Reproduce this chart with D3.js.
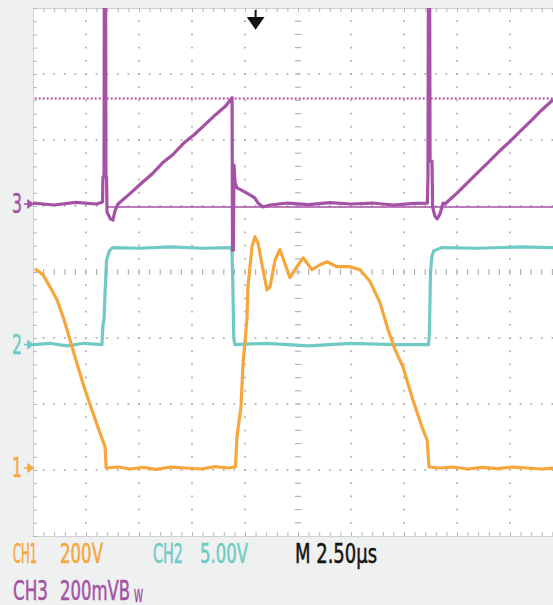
<!doctype html>
<html>
<head>
<meta charset="UTF-8">
<script src="https://d3js.org/d3.v7.min.js"></script>
<style>
  body { margin: 0; background: #eff1f0; }
  svg { display: block; }
  .lbl { font-family: "Liberation Sans Narrow", "DejaVu Sans Condensed", "Liberation Sans", sans-serif; stroke-width: 0.5; }
</style>
</head>
<body>
<svg width="553" height="605"></svg>
<script>
// scope settings
const timePerDiv = 2.5;          // µs
const ch1Scale = 200, ch1Offset = -2.97;   // V/div, div
const ch2Scale = 5,   ch2Offset = -1.1;    // V/div
const ch3Scale = 200, ch3Offset = 1.03;    // mV/div

// CH1 (V) vs time (µs)
const ch1_t = [0.09, 0.47, 0.80, 1.13, 1.42, 1.65, 1.84, 2.12, 2.45, 2.78, 3.16, 3.40, 3.45,
  4.0, 4.6, 5.2, 5.8, 6.5, 7.2, 7.9, 8.6, 9.2, 9.55, 9.62, 9.81, 9.91, 10.09, 10.14, 10.33,
  10.47, 10.61, 10.85, 11.04, 11.18, 11.42, 11.65, 12.12, 12.45, 12.74, 13.16, 13.54, 13.87,
  14.34, 14.95, 15.42, 15.90, 16.37, 16.75, 17.08, 17.45, 17.92, 18.35, 18.59, 18.68,
  19.2, 19.8, 20.5, 21.2, 21.9, 22.6, 23.3, 24.0, 24.53];
const ch1_v = [604, 586, 549, 510, 458, 410, 367, 307, 237, 176, 106, 64, 0,
  3, -3, 2, -4, 3, 0, -3, 4, 0, 3, 94, 185, 319, 449, 549, 671,
  701, 683, 601, 540, 549, 631, 662, 577, 610, 637, 601, 616, 625,
  610, 610, 601, 565, 501, 419, 358, 307, 206, 124, 85, 3,
  0, 3, -3, 2, -2, 3, 0, -3, 0];

// CH2 (V)
const ch2_t = [0.0, 0.8, 1.6, 2.4, 3.25, 3.30, 3.35, 3.40, 3.47, 3.60, 3.75, 5.0, 6.5, 8.0, 9.38,
  9.42, 9.47, 9.52, 11.0, 13.0, 15.0, 17.0, 18.66, 18.70, 18.75, 18.82, 18.90, 19.3, 21.0, 23.0, 24.53];
const ch2_v = [0, 0.1, -0.1, 0.1, 0, 1.5, 1.9, 4.0, 6.4, 7.1, 7.35, 7.3, 7.4, 7.3, 7.35,
  5.0, 0.5, 0, 0.1, -0.1, 0.1, 0, 0, 1.0, 5.5, 6.7, 7.1, 7.35, 7.3, 7.4, 7.35];

// CH3 (mV)
const ch3_t = [0, 1, 2, 3, 3.28, 3.30, 3.35, 3.37, 3.42, 3.44, 3.47, 3.49, 3.65, 3.77, 3.87, 4.01,
  4.6, 5.1, 5.6, 6.1, 6.6, 7.1, 7.6, 8.1, 8.6, 9.1, 9.39, 9.41, 9.45, 9.48, 9.53, 9.62, 9.81,
  10.09, 10.33, 10.47, 10.61, 10.85, 11.18, 12, 13, 14, 15, 16, 17, 18, 18.6, 18.63, 18.66,
  18.70, 18.73, 18.82, 18.85, 18.95, 19.06, 19.2, 19.34, 19.43, 20.0, 20.5, 21.0, 21.5, 22.0,
  22.5, 23.0, 23.5, 24.0, 24.53];
const ch3_v = [3, -3, 5, 0, 6, 82, 82, 900, 900, 82, 82, -24, -45, -49, -20, 0,
  33, 62, 90, 124, 150, 184, 210, 240, 270, 298, 322, -140, -140, 118, 64, 49, 43,
  33, 24, 18, 3, -9, -3, 3, -2, 4, 0, 3, -3, 2, 3, 82, 900,
  900, 130, 130, -9, -35, -45, -30, 3, 0, 33, 65, 97, 128, 160,
  190, 222, 253, 285, 316];

// CH3 cursors (mV)
const ch3CursorLevel = 320;
const ch3RefLevel = -9, ch3RefStart = 3.45;

const bottomLabels = [
  {text: "CH1", x: 13, w: 24, row: 0, c: "ch1"}, {text: "200V", x: 60, w: 43, row: 0, c: "ch1"},
  {text: "CH2", x: 153, w: 30, row: 0, c: "ch2"}, {text: "5.00V", x: 200, w: 48, row: 0, c: "ch2"},
  {text: "M 2.50µs", x: 295, w: 82, row: 0, c: "ink"},
  {text: "CH3", x: 13, w: 35, row: 1, c: "ch3"}
];

const colors = {ch1: "#f6a63b", ch2: "#6fcac4", ch3: "#a551a5", ink: "#151515"};

const svg = d3.select("svg");
const x = d3.scaleLinear().domain([0, 10 * timePerDiv]).range([33, 563]);
const y = d3.scaleLinear().domain([-4, 4]).range([536, 8]);

svg.append("rect").attr("x", 0).attr("y", 0).attr("width", 553).attr("height", 605).attr("fill", "#eff1f0");
svg.append("rect").attr("x", x(0)).attr("y", y(4)).attr("width", x(25) - x(0)).attr("height", y(-4) - y(4)).attr("fill", "#fff");

svg.append("defs").append("clipPath").attr("id", "plot")
  .append("rect").attr("x", x(0)).attr("y", y(4)).attr("width", x(25) - x(0)).attr("height", y(-4) - y(4));

const minorX = d3.range(0, 25.001, timePerDiv / 5);
const minorY = d3.range(-4, 4.001, 0.2);
const grid = svg.append("g").attr("fill", "#b3b3b3");

// dotted major grid
[1, 2, 3, 4, 6, 7, 8, 9].forEach(k => {
  grid.selectAll(null).data(minorY.slice(1, -1)).enter().append("rect")
    .attr("x", x(k * timePerDiv) - 0.9).attr("y", d => y(d) - 0.9).attr("width", 1.8).attr("height", 1.8);
});
[-3, -2, -1, 1, 2, 3].forEach(k => {
  grid.selectAll(null).data(minorX.slice(1)).enter().append("rect")
    .attr("x", d => x(d) - 0.9).attr("y", y(k) - 0.9).attr("width", 1.8).attr("height", 1.8);
});
// centre axes
grid.selectAll(null).data(minorY.slice(1, -1)).enter().append("rect")
  .attr("x", x(12.5) - 3).attr("y", d => y(d) - 0.6).attr("width", 6).attr("height", 1.2);
grid.selectAll(null).data(minorX.slice(1)).enter().append("rect")
  .attr("x", d => x(d) - 0.6).attr("y", y(0) - 3).attr("width", 1.2).attr("height", 6);

// border ticks
function border(axis, tr) {
  const g = svg.append("g").attr("transform", tr)
    .call(axis.tickSize(4).tickSizeOuter(0).tickFormat(""));
  g.select(".domain").attr("stroke", "#cfd1d0");
  g.selectAll(".tick line").attr("stroke", "#b5b5b5");
}
border(d3.axisBottom(x).tickValues(minorX), `translate(0,${y(4)})`);
border(d3.axisTop(x).tickValues(minorX), `translate(0,${y(-4)})`);
border(d3.axisRight(y).tickValues(minorY), `translate(${x(0)},0)`);

// traces
const traces = svg.append("g").attr("clip-path", "url(#plot)").attr("fill", "none");
function trace(ts, vs, scale, offset, color, w) {
  const pts = ts.map((t, i) => [t, offset + vs[i] / scale]);
  traces.append("path").datum(pts)
    .attr("d", d3.line().x(d => x(d[0])).y(d => y(d[1])))
    .attr("stroke", color).attr("stroke-width", w).attr("stroke-linejoin", "round");
}
// ch3 cursors
traces.append("line").attr("x1", x(0.08)).attr("x2", x(25))
  .attr("y1", y(ch3Offset + ch3CursorLevel / ch3Scale)).attr("y2", y(ch3Offset + ch3CursorLevel / ch3Scale))
  .attr("stroke", colors.ch3).attr("stroke-width", 2).attr("stroke-dasharray", "2,2");
traces.append("line").attr("x1", x(ch3RefStart)).attr("x2", x(25))
  .attr("y1", y(ch3Offset + ch3RefLevel / ch3Scale)).attr("y2", y(ch3Offset + ch3RefLevel / ch3Scale))
  .attr("stroke", colors.ch3).attr("stroke-width", 1.6);

trace(ch2_t, ch2_v, ch2Scale, ch2Offset, colors.ch2, 3.2);
trace(ch3_t, ch3_v, ch3Scale, ch3Offset, colors.ch3, 3.2);
trace(ch1_t, ch1_v, ch1Scale, ch1Offset, colors.ch1, 3.2);

// trigger position marker
const tx = x(10.5);
svg.append("path").attr("d", `M${tx},10V20M${tx - 7},18L${tx + 7},18L${tx},28Z`)
  .attr("stroke", "#111").attr("stroke-width", 2).attr("fill", "#111");

// channel ground markers
[["1", ch1Offset, colors.ch1], ["2", ch2Offset, colors.ch2], ["3", ch3Offset, colors.ch3]].forEach(([n, off, c]) => {
  const yy = y(off);
  svg.append("text").attr("class", "lbl").attr("x", 12).attr("y", yy + 9)
    .attr("font-size", 26).attr("textLength", 10).attr("lengthAdjust", "spacingAndGlyphs")
    .attr("fill", c).attr("stroke", c).text(n);
  svg.append("path").attr("d", `M24,${yy}H29M28,${yy - 3.5}L33,${yy}L28,${yy + 3.5}Z`)
    .attr("stroke", c).attr("stroke-width", 1.6).attr("fill", c);
});

// bottom readout
svg.selectAll(null).data(bottomLabels).enter().append("text")
  .attr("class", "lbl").attr("x", d => d.x).attr("y", d => d.row ? 600 : 563)
  .attr("font-size", 26).attr("textLength", d => d.w).attr("lengthAdjust", "spacingAndGlyphs")
  .attr("fill", d => colors[d.c]).attr("stroke", d => colors[d.c]).text(d => d.text);
const bw = svg.append("text").attr("class", "lbl").attr("x", 60).attr("y", 600)
  .attr("font-size", 26).attr("fill", colors.ch3).attr("stroke", colors.ch3);
bw.append("tspan").attr("textLength", 70).attr("lengthAdjust", "spacingAndGlyphs").text("200mVB");
bw.append("tspan").attr("x", 134).attr("dy", 2).attr("font-size", 17)
  .attr("textLength", 9).attr("lengthAdjust", "spacingAndGlyphs").text("W");
</script>
</body>
</html>
